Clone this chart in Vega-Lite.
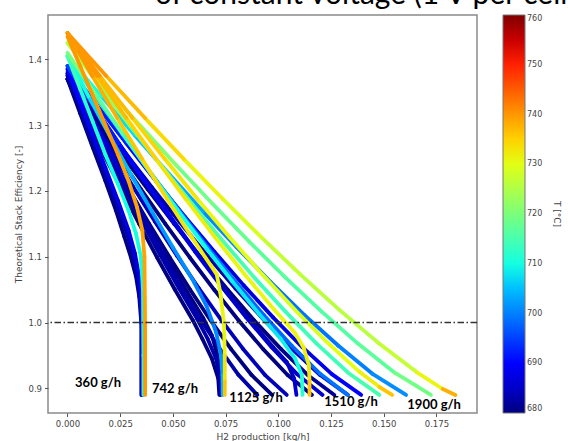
{
"$schema":"https://vega.github.io/schema/vega-lite/v6.json",
"autosize":{"type":"none"},
"width":429,"height":398,
"padding":{"left":48,"top":15,"right":91,"bottom":28},
"background":"white",
"title":{"text":"of constant voltage (1 V per cell)","anchor":"start","font":"Lato","fontSize":30,"fontWeight":"normal","color":"#000","dx":140,"dy":25,"baseline":"bottom","offset":0},
"datasets":{
"curves":[
{"c":"E4","x":0,"y":1.37,"T":680},{"c":"E4","x":0.006,"y":1.318,"T":680},{"c":"E4","x":0.012,"y":1.266,"T":680},{"c":"E4","x":0.018,"y":1.215,"T":680},{"c":"E4","x":0.023,"y":1.17,"T":680},{"c":"E4","x":0.027,"y":1.13,"T":680},{"c":"E4","x":0.03,"y":1.1,"T":680},{"c":"E4","x":0.0325,"y":1.07,"T":680},{"c":"E4","x":0.034,"y":1.04,"T":680},{"c":"E4","x":0.035,"y":1.0,"T":680},{"c":"E4","x":0.035,"y":0.89,"T":680},
{"c":"E5","x":0,"y":1.378,"T":683},{"c":"E5","x":0.006,"y":1.326,"T":683},{"c":"E5","x":0.012,"y":1.275,"T":683},{"c":"E5","x":0.018,"y":1.225,"T":683},{"c":"E5","x":0.0235,"y":1.178,"T":683},{"c":"E5","x":0.028,"y":1.137,"T":683},{"c":"E5","x":0.031,"y":1.105,"T":683},{"c":"E5","x":0.0333,"y":1.072,"T":683},{"c":"E5","x":0.0346,"y":1.035,"T":683},{"c":"E5","x":0.0353,"y":0.99,"T":683},{"c":"E5","x":0.0353,"y":0.89,"T":683},
{"c":"E3","x":0,"y":1.385,"T":690},{"c":"E3","x":0.006,"y":1.335,"T":689},{"c":"E3","x":0.012,"y":1.285,"T":688},{"c":"E3","x":0.018,"y":1.235,"T":688},{"c":"E3","x":0.024,"y":1.185,"T":687},{"c":"E3","x":0.029,"y":1.14,"T":687},{"c":"E3","x":0.032,"y":1.105,"T":687},{"c":"E3","x":0.034,"y":1.07,"T":687},{"c":"E3","x":0.0352,"y":1.02,"T":687},{"c":"E3","x":0.0355,"y":0.95,"T":688},{"c":"E3","x":0.0355,"y":0.89,"T":688},
{"c":"E2","x":0,"y":1.405,"T":714},{"c":"E2","x":0.006,"y":1.355,"T":712},{"c":"E2","x":0.012,"y":1.305,"T":711},{"c":"E2","x":0.018,"y":1.255,"T":710},{"c":"E2","x":0.024,"y":1.21,"T":710},{"c":"E2","x":0.029,"y":1.17,"T":710},{"c":"E2","x":0.0325,"y":1.135,"T":710},{"c":"E2","x":0.0348,"y":1.1,"T":710},{"c":"E2","x":0.0358,"y":1.05,"T":710},{"c":"E2","x":0.036,"y":0.95,"T":711},{"c":"E2","x":0.036,"y":0.89,"T":712},
{"c":"E1","x":0,"y":1.435,"T":740},{"c":"E1","x":0.006,"y":1.39,"T":740},{"c":"E1","x":0.012,"y":1.345,"T":740},{"c":"E1","x":0.018,"y":1.3,"T":740},{"c":"E1","x":0.024,"y":1.255,"T":739},{"c":"E1","x":0.029,"y":1.215,"T":739},{"c":"E1","x":0.033,"y":1.175,"T":739},{"c":"E1","x":0.0355,"y":1.14,"T":739},{"c":"E1","x":0.0365,"y":1.1,"T":739},{"c":"E1","x":0.0368,"y":1.0,"T":740},{"c":"E1","x":0.0368,"y":0.89,"T":741},
{"c":"D4","x":0,"y":1.37,"T":680},{"c":"D4","x":0.0085,"y":1.313,"T":680},{"c":"D4","x":0.017,"y":1.2572,"T":680},{"c":"D4","x":0.0255,"y":1.2029,"T":680},{"c":"D4","x":0.034,"y":1.15,"T":680},{"c":"D4","x":0.0425,"y":1.0989,"T":680},{"c":"D4","x":0.051,"y":1.0498,"T":680},{"c":"D4","x":0.0595,"y":1.0032,"T":680},{"c":"D4","x":0.064,"y":0.975,"T":680},{"c":"D4","x":0.0685,"y":0.945,"T":680},{"c":"D4","x":0.0715,"y":0.915,"T":680},{"c":"D4","x":0.072,"y":0.89,"T":680},
{"c":"D5","x":0,"y":1.378,"T":683},{"c":"D5","x":0.0088,"y":1.32,"T":683},{"c":"D5","x":0.0176,"y":1.2634,"T":683},{"c":"D5","x":0.0264,"y":1.208,"T":683},{"c":"D5","x":0.0352,"y":1.1543,"T":683},{"c":"D5","x":0.044,"y":1.1024,"T":683},{"c":"D5","x":0.0528,"y":1.0525,"T":683},{"c":"D5","x":0.0616,"y":1.005,"T":683},{"c":"D5","x":0.0665,"y":0.975,"T":683},{"c":"D5","x":0.0705,"y":0.945,"T":683},{"c":"D5","x":0.0723,"y":0.915,"T":683},{"c":"D5","x":0.0727,"y":0.89,"T":684},
{"c":"D3","x":0,"y":1.385,"T":690},{"c":"D3","x":0.0092,"y":1.3262,"T":687},{"c":"D3","x":0.0184,"y":1.2687,"T":685},{"c":"D3","x":0.0276,"y":1.2126,"T":683},{"c":"D3","x":0.0368,"y":1.1581,"T":682},{"c":"D3","x":0.046,"y":1.1055,"T":681},{"c":"D3","x":0.0552,"y":1.0548,"T":680},{"c":"D3","x":0.0644,"y":1.0067,"T":680},{"c":"D3","x":0.0685,"y":0.98,"T":680},{"c":"D3","x":0.0712,"y":0.95,"T":681},{"c":"D3","x":0.0722,"y":0.92,"T":682},{"c":"D3","x":0.0724,"y":0.89,"T":683},
{"c":"D2","x":0,"y":1.405,"T":710},{"c":"D2","x":0.01,"y":1.3438,"T":707},{"c":"D2","x":0.02,"y":1.284,"T":705},{"c":"D2","x":0.03,"y":1.2257,"T":703},{"c":"D2","x":0.04,"y":1.169,"T":702},{"c":"D2","x":0.05,"y":1.1142,"T":701},{"c":"D2","x":0.06,"y":1.0615,"T":700},{"c":"D2","x":0.066,"y":1.025,"T":700},{"c":"D2","x":0.0705,"y":0.985,"T":701},{"c":"D2","x":0.0728,"y":0.95,"T":702},{"c":"D2","x":0.0735,"y":0.92,"T":704},{"c":"D2","x":0.0736,"y":0.89,"T":706},
{"c":"D1","x":0,"y":1.44,"T":740},{"c":"D1","x":0.0118,"y":1.3747,"T":738},{"c":"D1","x":0.0236,"y":1.3108,"T":736},{"c":"D1","x":0.0354,"y":1.2485,"T":734},{"c":"D1","x":0.0472,"y":1.1879,"T":733},{"c":"D1","x":0.059,"y":1.1294,"T":732},{"c":"D1","x":0.0708,"y":1.0732,"T":731},{"c":"D1","x":0.0725,"y":1.045,"T":731},{"c":"D1","x":0.0742,"y":1.0,"T":731},{"c":"D1","x":0.0746,"y":0.95,"T":733},{"c":"D1","x":0.0746,"y":0.91,"T":736},{"c":"D1","x":0.0746,"y":0.89,"T":738},
{"c":"C4","x":0,"y":1.37,"T":680},{"c":"C4","x":0.0097,"y":1.313,"T":680},{"c":"C4","x":0.0194,"y":1.2572,"T":680},{"c":"C4","x":0.0291,"y":1.2029,"T":680},{"c":"C4","x":0.0388,"y":1.15,"T":680},{"c":"C4","x":0.0485,"y":1.0989,"T":680},{"c":"C4","x":0.0582,"y":1.0498,"T":680},{"c":"C4","x":0.0679,"y":1.0032,"T":680},{"c":"C4","x":0.0776,"y":0.9596,"T":680},{"c":"C4","x":0.0873,"y":0.9203,"T":680},{"c":"C4","x":0.097,"y":0.89,"T":681},
{"c":"C5","x":0,"y":1.38,"T":683},{"c":"C5","x":0.009,"y":1.3218,"T":683},{"c":"C5","x":0.018,"y":1.2649,"T":683},{"c":"C5","x":0.027,"y":1.2094,"T":683},{"c":"C5","x":0.036,"y":1.1554,"T":683},{"c":"C5","x":0.045,"y":1.1033,"T":683},{"c":"C5","x":0.054,"y":1.0532,"T":683},{"c":"C5","x":0.063,"y":1.0055,"T":683},{"c":"C5","x":0.072,"y":0.9611,"T":683},{"c":"C5","x":0.081,"y":0.9209,"T":683},{"c":"C5","x":0.09,"y":0.89,"T":684},
{"c":"C3","x":0,"y":1.39,"T":695},{"c":"C3","x":0.0122,"y":1.3306,"T":691},{"c":"C3","x":0.0244,"y":1.2726,"T":688},{"c":"C3","x":0.0366,"y":1.2159,"T":686},{"c":"C3","x":0.0488,"y":1.1609,"T":685},{"c":"C3","x":0.061,"y":1.1077,"T":684},{"c":"C3","x":0.0732,"y":1.0565,"T":683},{"c":"C3","x":0.0854,"y":1.0079,"T":683},{"c":"C3","x":0.0976,"y":0.9625,"T":683},{"c":"C3","x":0.104,"y":0.94,"T":684},{"c":"C3","x":0.1075,"y":0.915,"T":686},{"c":"C3","x":0.1086,"y":0.89,"T":688},
{"c":"C2","x":0,"y":1.41,"T":720},{"c":"C2","x":0.013,"y":1.3482,"T":717},{"c":"C2","x":0.026,"y":1.2879,"T":714},{"c":"C2","x":0.039,"y":1.2289,"T":712},{"c":"C2","x":0.052,"y":1.1717,"T":710},{"c":"C2","x":0.065,"y":1.1164,"T":709},{"c":"C2","x":0.078,"y":1.0632,"T":708},{"c":"C2","x":0.091,"y":1.0126,"T":708},{"c":"C2","x":0.101,"y":0.9759,"T":709},{"c":"C2","x":0.108,"y":0.945,"T":710},{"c":"C2","x":0.1112,"y":0.92,"T":712},{"c":"C2","x":0.1115,"y":0.89,"T":715},
{"c":"C1","x":0,"y":1.44,"T":740},{"c":"C1","x":0.014,"y":1.3747,"T":737},{"c":"C1","x":0.028,"y":1.3108,"T":735},{"c":"C1","x":0.042,"y":1.2485,"T":733},{"c":"C1","x":0.056,"y":1.1879,"T":732},{"c":"C1","x":0.07,"y":1.1294,"T":731},{"c":"C1","x":0.084,"y":1.0732,"T":731},{"c":"C1","x":0.098,"y":1.0197,"T":731},{"c":"C1","x":0.108,"y":0.9838,"T":731},{"c":"C1","x":0.112,"y":0.962,"T":732},{"c":"C1","x":0.1145,"y":0.935,"T":733},{"c":"C1","x":0.1148,"y":0.91,"T":736},{"c":"C1","x":0.1148,"y":0.89,"T":738},
{"c":"B5","x":0,"y":1.37,"T":680},{"c":"B5","x":0.0116,"y":1.313,"T":680},{"c":"B5","x":0.0232,"y":1.2572,"T":680},{"c":"B5","x":0.0348,"y":1.2029,"T":680},{"c":"B5","x":0.0464,"y":1.15,"T":680},{"c":"B5","x":0.058,"y":1.0989,"T":680},{"c":"B5","x":0.0696,"y":1.0498,"T":680},{"c":"B5","x":0.0812,"y":1.0032,"T":680},{"c":"B5","x":0.0928,"y":0.9596,"T":680},{"c":"B5","x":0.1044,"y":0.9203,"T":681},{"c":"B5","x":0.116,"y":0.89,"T":682},
{"c":"B6","x":0,"y":1.375,"T":684},{"c":"B6","x":0.0104,"y":1.3174,"T":684},{"c":"B6","x":0.0208,"y":1.2611,"T":684},{"c":"B6","x":0.0312,"y":1.2061,"T":684},{"c":"B6","x":0.0416,"y":1.1527,"T":684},{"c":"B6","x":0.052,"y":1.1011,"T":684},{"c":"B6","x":0.0624,"y":1.0515,"T":684},{"c":"B6","x":0.0728,"y":1.0044,"T":684},{"c":"B6","x":0.0832,"y":0.9603,"T":684},{"c":"B6","x":0.0936,"y":0.9206,"T":684},{"c":"B6","x":0.104,"y":0.89,"T":685},
{"c":"B4","x":0,"y":1.39,"T":695},{"c":"B4","x":0.0121,"y":1.3306,"T":692},{"c":"B4","x":0.0242,"y":1.2726,"T":690},{"c":"B4","x":0.0363,"y":1.2159,"T":688},{"c":"B4","x":0.0484,"y":1.1609,"T":687},{"c":"B4","x":0.0605,"y":1.1077,"T":686},{"c":"B4","x":0.0726,"y":1.0565,"T":685},{"c":"B4","x":0.0847,"y":1.0079,"T":685},{"c":"B4","x":0.0968,"y":0.9625,"T":685},{"c":"B4","x":0.1089,"y":0.9216,"T":686},{"c":"B4","x":0.121,"y":0.89,"T":688},
{"c":"B3","x":0,"y":1.405,"T":710},{"c":"B3","x":0.0133,"y":1.3438,"T":707},{"c":"B3","x":0.0266,"y":1.284,"T":704},{"c":"B3","x":0.0399,"y":1.2257,"T":702},{"c":"B3","x":0.0532,"y":1.169,"T":700},{"c":"B3","x":0.0665,"y":1.1142,"T":699},{"c":"B3","x":0.0798,"y":1.0615,"T":698},{"c":"B3","x":0.0931,"y":1.0114,"T":698},{"c":"B3","x":0.1064,"y":0.9647,"T":698},{"c":"B3","x":0.1197,"y":0.9225,"T":699},{"c":"B3","x":0.133,"y":0.89,"T":701},
{"c":"B2","x":0,"y":1.425,"T":725},{"c":"B2","x":0.0148,"y":1.3614,"T":722},{"c":"B2","x":0.0296,"y":1.2993,"T":719},{"c":"B2","x":0.0444,"y":1.2387,"T":717},{"c":"B2","x":0.0592,"y":1.1798,"T":716},{"c":"B2","x":0.074,"y":1.1229,"T":715},{"c":"B2","x":0.0887,"y":1.0682,"T":714},{"c":"B2","x":0.1035,"y":1.0162,"T":714},{"c":"B2","x":0.1183,"y":0.9676,"T":714},{"c":"B2","x":0.1331,"y":0.9238,"T":715},{"c":"B2","x":0.1479,"y":0.89,"T":717},
{"c":"B1","x":0,"y":1.44,"T":740},{"c":"B1","x":0.0154,"y":1.3747,"T":737},{"c":"B1","x":0.0308,"y":1.3108,"T":735},{"c":"B1","x":0.0462,"y":1.2485,"T":733},{"c":"B1","x":0.0616,"y":1.1879,"T":731},{"c":"B1","x":0.077,"y":1.1294,"T":730},{"c":"B1","x":0.0924,"y":1.0732,"T":729},{"c":"B1","x":0.1078,"y":1.0197,"T":729},{"c":"B1","x":0.1232,"y":0.9698,"T":730},{"c":"B1","x":0.1386,"y":0.9247,"T":732},{"c":"B1","x":0.148,"y":0.902,"T":736},{"c":"B1","x":0.154,"y":0.89,"T":739},
{"c":"A5","x":0,"y":1.37,"T":681},{"c":"A5","x":0.0127,"y":1.313,"T":680},{"c":"A5","x":0.0253,"y":1.2572,"T":680},{"c":"A5","x":0.038,"y":1.2029,"T":680},{"c":"A5","x":0.0506,"y":1.15,"T":680},{"c":"A5","x":0.0633,"y":1.0989,"T":680},{"c":"A5","x":0.076,"y":1.0498,"T":680},{"c":"A5","x":0.0886,"y":1.0032,"T":680},{"c":"A5","x":0.1013,"y":0.9596,"T":681},{"c":"A5","x":0.1139,"y":0.9203,"T":682},{"c":"A5","x":0.1266,"y":0.89,"T":684},
{"c":"A6","x":0,"y":1.375,"T":684},{"c":"A6","x":0.0133,"y":1.3174,"T":684},{"c":"A6","x":0.0266,"y":1.2611,"T":683},{"c":"A6","x":0.0399,"y":1.2061,"T":683},{"c":"A6","x":0.0532,"y":1.1527,"T":683},{"c":"A6","x":0.0665,"y":1.1011,"T":683},{"c":"A6","x":0.0798,"y":1.0515,"T":683},{"c":"A6","x":0.0931,"y":1.0044,"T":683},{"c":"A6","x":0.1064,"y":0.9603,"T":684},{"c":"A6","x":0.1197,"y":0.9206,"T":685},{"c":"A6","x":0.133,"y":0.89,"T":687},
{"c":"A4","x":0,"y":1.39,"T":695},{"c":"A4","x":0.0139,"y":1.3306,"T":692},{"c":"A4","x":0.0279,"y":1.2726,"T":690},{"c":"A4","x":0.0418,"y":1.2159,"T":689},{"c":"A4","x":0.0557,"y":1.1609,"T":688},{"c":"A4","x":0.0697,"y":1.1077,"T":687},{"c":"A4","x":0.0836,"y":1.0565,"T":687},{"c":"A4","x":0.0975,"y":1.0079,"T":687},{"c":"A4","x":0.1114,"y":0.9625,"T":688},{"c":"A4","x":0.1254,"y":0.9216,"T":690},{"c":"A4","x":0.1393,"y":0.89,"T":693},
{"c":"A3","x":0,"y":1.405,"T":710},{"c":"A3","x":0.0161,"y":1.3438,"T":707},{"c":"A3","x":0.0321,"y":1.284,"T":705},{"c":"A3","x":0.0482,"y":1.2257,"T":703},{"c":"A3","x":0.0642,"y":1.169,"T":701},{"c":"A3","x":0.0803,"y":1.1142,"T":700},{"c":"A3","x":0.0964,"y":1.0615,"T":699},{"c":"A3","x":0.1124,"y":1.0114,"T":699},{"c":"A3","x":0.1285,"y":0.9647,"T":700},{"c":"A3","x":0.1445,"y":0.9225,"T":701},{"c":"A3","x":0.1606,"y":0.89,"T":703},
{"c":"A2","x":0,"y":1.425,"T":725},{"c":"A2","x":0.0172,"y":1.3614,"T":723},{"c":"A2","x":0.0345,"y":1.2993,"T":721},{"c":"A2","x":0.0517,"y":1.2387,"T":719},{"c":"A2","x":0.069,"y":1.1798,"T":718},{"c":"A2","x":0.0862,"y":1.1229,"T":717},{"c":"A2","x":0.1034,"y":1.0682,"T":716},{"c":"A2","x":0.1207,"y":1.0162,"T":716},{"c":"A2","x":0.1379,"y":0.9676,"T":717},{"c":"A2","x":0.1552,"y":0.9238,"T":719},{"c":"A2","x":0.1724,"y":0.89,"T":722},
{"c":"A1","x":0,"y":1.44,"T":740},{"c":"A1","x":0.0184,"y":1.3747,"T":737},{"c":"A1","x":0.0368,"y":1.3108,"T":734},{"c":"A1","x":0.0552,"y":1.2485,"T":731},{"c":"A1","x":0.0736,"y":1.1879,"T":729},{"c":"A1","x":0.092,"y":1.1294,"T":727},{"c":"A1","x":0.1104,"y":1.0732,"T":726},{"c":"A1","x":0.1288,"y":1.0197,"T":726},{"c":"A1","x":0.1472,"y":0.9698,"T":727},{"c":"A1","x":0.1656,"y":0.9247,"T":731},{"c":"A1","x":0.178,"y":0.899,"T":738},{"c":"A1","x":0.184,"y":0.89,"T":740}
],
"labels":[
{"label":"360 g/h","x":0.0145,"y":0.9081},
{"label":"742 g/h","x":0.051,"y":0.899},
{"label":"1125 g/h","x":0.0894,"y":0.8853},
{"label":"1510 g/h","x":0.1345,"y":0.8792},
{"label":"1900 g/h","x":0.1739,"y":0.8747}
]
},
"layer":[
{
"data":{"name":"curves"},
"transform":[
{"window":[{"op":"lead","field":"x","as":"x2"},{"op":"lead","field":"y","as":"y2"}],"groupby":["c"],"sort":[{"field":"y","order":"descending"}]},
{"filter":"isValid(datum.x2)"}
],
"mark":{"type":"rule","strokeWidth":3.8,"strokeCap":"round"},
"encoding":{
"x":{"field":"x","type":"quantitative","scale":{"domain":[-0.00925,0.19425],"nice":false,"zero":false},
"axis":{"values":[0,0.025,0.05,0.075,0.1,0.125,0.15,0.175],"format":".3f","title":"H2 production [kg/h]"}},
"x2":{"field":"x2"},
"y":{"field":"y","type":"quantitative","scale":{"domain":[0.8625,1.4675],"nice":false,"zero":false},
"axis":{"values":[0.9,1.0,1.1,1.2,1.3,1.4],"format":".1f","title":"Theoretical Stack Efficiency [-]"}},
"y2":{"field":"y2"},
"color":{"field":"T","type":"quantitative",
"scale":{"domain":[680,685,690,695,700,705,710,715,720,725,730,735,740,745,750,755,760],
"range":["#000080","#0000c8","#0000ff","#0040ff","#0080ff","#00bfff","#14ffe2","#48ffaf","#7bff7b","#afff48","#e2ff14","#ffd200","#ff9700","#ff5c00","#ff2100","#c80000","#800000"],
"interpolate":"rgb","clamp":true},
"legend":{"title":"T [°C]","values":[680,690,700,710,720,730,740,750,760],"format":"d"}},
"order":{"field":"T","type":"quantitative"}
}
},
{
"data":{"values":[{}]},
"mark":{"type":"rule","color":"#333","strokeWidth":1.5,"strokeDash":[6.5,2.5,1.5,2.5]},
"encoding":{"y":{"datum":1.0,"type":"quantitative"}}
},
{
"data":{"name":"labels"},
"mark":{"type":"text","font":"Lato","fontSize":13,"fontWeight":"bold","color":"#000","align":"center","baseline":"middle"},
"encoding":{
"x":{"field":"x","type":"quantitative"},
"y":{"field":"y","type":"quantitative"},
"text":{"field":"label"}
}
}
],
"config":{
"view":{"stroke":"#8a8a8a","strokeWidth":1.5},
"axis":{"domain":false,"grid":false,"tickColor":"#555","tickSize":3.5,"labelFont":"DejaVu Sans","labelFontSize":8.5,"labelColor":"#444","labelPadding":3,"titleFont":"DejaVu Sans","titleFontSize":9,"titleFontWeight":"normal","titleColor":"#444"},
"legend":{"orient":"right","offset":26,"gradientLength":398,"gradientThickness":22,"gradientStrokeColor":"#777","gradientStrokeWidth":1,"labelFont":"DejaVu Sans","labelFontSize":8,"labelColor":"#444","labelOffset":5,"labelBaseline":"middle","labelOverlap":false,"titleOrient":"right","titleAngle":270,"titleAnchor":"middle","titleFont":"DejaVu Sans","titleFontSize":9,"titleFontWeight":"normal","titleColor":"#444","titlePadding":10}
}
}
